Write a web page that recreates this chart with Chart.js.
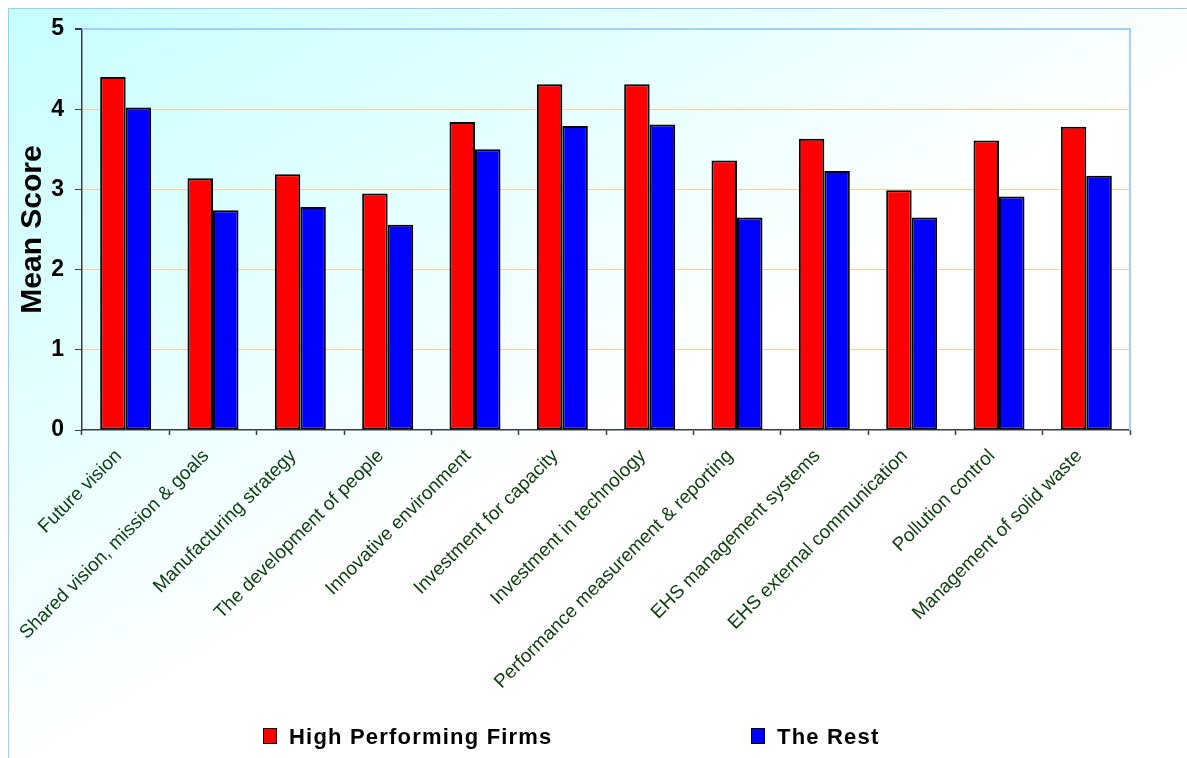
<!DOCTYPE html>
<html>
<head>
<meta charset="utf-8">
<title>Mean Score by Practice</title>
<script src="https://cdn.jsdelivr.net/npm/chart.js@4.4.1/dist/chart.umd.min.js"></script>
<style>
  html, body { margin: 0; padding: 0; background: #ffffff; overflow: hidden; }
  #wrap { position: relative; width: 1187px; height: 758px; overflow: hidden; }
  #frame {
    position: absolute; left: 8px; top: 8px; width: 1200px; height: 780px;
    border-top: 1px solid #99ccff; border-left: 1px solid #99ccff;
    background: linear-gradient(149deg, #c6ffff 0%, #ffffff 52%);
  }
  #chart { position: absolute; left: 0; top: 0; }
</style>
</head>
<body>
<div id="wrap">
  <div id="frame"></div>
  <canvas id="chart" width="1187" height="758"></canvas>
</div>
<script>
// Practice areas on the category axis
const categories = [
  'Future vision',
  'Shared vision, mission & goals',
  'Manufacturing strategy',
  'The development of people',
  'Innovative environment',
  'Investment for capacity',
  'Investment in technology',
  'Performance measurement & reporting',
  'EHS management systems',
  'EHS external communication',
  'Pollution control',
  'Management of solid waste'
];

// Mean scores per group
const highPerforming = [4.40, 3.14, 3.19, 2.95, 3.84, 4.31, 4.31, 3.36, 3.63, 2.99, 3.61, 3.78];
const theRest        = [4.02, 2.74, 2.78, 2.56, 3.50, 3.79, 3.81, 2.65, 3.23, 2.65, 2.91, 3.17];

// Value axis ticks
const yTicks = [0, 1, 2, 3, 4, 5];

const seriesLabels = ['High Performing Firms', 'The Rest'];

const AXIS_COLOR = '#343c44';
const FRAME_BLUE = '#a3cff8';
const GRID_PEACH = '#ffcb98';
const FONT = "'Liberation Sans', Arial, Helvetica, sans-serif";

// Light-blue border along the top and right of the plot area
const plotFrame = {
  id: 'plotFrame',
  beforeDatasetsDraw(chart, args, opts) {
    const { ctx, chartArea: a } = chart;
    ctx.save();
    ctx.strokeStyle = opts.color;
    ctx.lineWidth = opts.width;
    ctx.beginPath();
    ctx.moveTo(a.left, a.top);
    ctx.lineTo(a.right, a.top);
    ctx.lineTo(a.right, a.bottom);
    ctx.stroke();
    ctx.restore();
  }
};

// Series key along the bottom edge
const bottomLegend = {
  id: 'bottomLegend',
  afterDraw(chart, args, opts) {
    const ctx = chart.ctx;
    ctx.save();
    ctx.font = opts.font;
    ctx.letterSpacing = opts.letterSpacing;
    ctx.textBaseline = 'alphabetic';
    ctx.textAlign = 'left';
    chart.data.datasets.forEach((ds, i) => {
      const x = opts.x[i];
      ctx.fillStyle = ds.backgroundColor;
      ctx.fillRect(x, opts.boxTop, opts.boxW, opts.boxH);
      ctx.strokeStyle = '#000000';
      ctx.lineWidth = 1;
      ctx.strokeRect(x + 0.5, opts.boxTop + 0.5, opts.boxW - 1, opts.boxH - 1);
      ctx.fillStyle = '#000000';
      ctx.fillText(ds.label, x + opts.boxW + opts.gap, opts.baseline);
    });
    ctx.restore();
  }
};

new Chart(document.getElementById('chart'), {
  type: 'bar',
  data: {
    labels: categories,
    datasets: [
      {
        label: seriesLabels[0],
        data: highPerforming,
        backgroundColor: '#ff0000',
        borderColor: '#000000',
        borderWidth: 2,
        borderSkipped: false
      },
      {
        label: seriesLabels[1],
        data: theRest,
        backgroundColor: '#0000ff',
        borderColor: '#000000',
        borderWidth: 2,
        borderSkipped: false
      }
    ]
  },
  options: {
    responsive: false,
    animation: false,
    devicePixelRatio: 1,
    layout: { padding: { left: 0, top: 29, right: 57, bottom: 0 } },
    datasets: {
      bar: { categoryPercentage: 0.584, barPercentage: 1.0 }
    },
    plugins: {
      legend: { display: false },
      tooltip: { enabled: false },
      plotFrame: { color: FRAME_BLUE, width: 2 },
      bottomLegend: {
        font: 'bold 22px ' + FONT,
        letterSpacing: '1.2px',
        x: [263, 751],
        boxTop: 728,
        boxW: 14,
        boxH: 16,
        gap: 12,
        baseline: 744
      }
    },
    scales: {
      x: {
        afterFit(scale) { scale.height = 328; },
        grid: {
          display: true,
          drawOnChartArea: false,
          drawTicks: true,
          tickLength: 5,
          tickColor: AXIS_COLOR,
          tickWidth: 1.5,
          offset: true
        },
        border: { display: true, color: AXIS_COLOR, width: 1.5 },
        ticks: {
          autoSkip: false,
          maxRotation: 45,
          minRotation: 45,
          labelOffset: -7,
          padding: 10,
          color: '#0b3d0b',
          font: { family: FONT, size: 19 }
        }
      },
      y: {
        min: 0,
        max: 5,
        afterFit(scale) { scale.width = 82; },
        afterBuildTicks(scale) { scale.ticks = yTicks.map(v => ({ value: v })); },
        grid: {
          drawTicks: true,
          tickLength: 7,
          tickColor: AXIS_COLOR,
          color: ctx => ctx.tick.value === 5 ? FRAME_BLUE : (ctx.tick.value === 0 ? 'rgba(0,0,0,0)' : GRID_PEACH),
          lineWidth: ctx => ctx.tick.value === 5 ? 2 : 1
        },
        border: { display: true, color: AXIS_COLOR, width: 1.5 },
        ticks: {
          padding: 11,
          color: '#000000',
          font: { family: FONT, size: 23, weight: 'bold' }
        },
        title: {
          display: true,
          text: 'Mean Score',
          color: '#000000',
          font: { family: FONT, size: 30, weight: 'bold' },
          padding: { top: 15, bottom: 0 }
        }
      }
    }
  },
  plugins: [plotFrame, bottomLegend]
});
</script>
</body>
</html>
